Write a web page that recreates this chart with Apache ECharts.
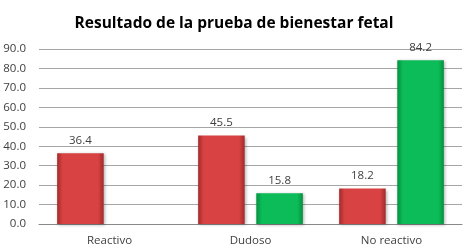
<!DOCTYPE html>
<html lang="en">
<head>
    <meta charset="UTF-8">
    <title>Resultado de la prueba de bienestar fetal</title>
    <script src="https://cdn.jsdelivr.net/npm/echarts@6/dist/echarts.min.js"></script>
</head>
<body style="margin: 0">
<div id="main" style="width: 468px;height: 251px"></div>
<script>
    const categories = ['Reactivo', 'Dudoso', 'No reactivo'];
    const redValues = [36.4, 45.5, 18.2];
    const greenValues = [null, 15.8, 84.2];

    const chart = echarts.init(document.getElementById('main'));

    function barColor(edge, mid) {
        return new echarts.graphic.LinearGradient(0, 0, 1, 0, [
            {offset: 0, color: edge},
            {offset: 0.12, color: mid},
            {offset: 0.88, color: mid},
            {offset: 1, color: edge}
        ]);
    }

    const labelStyle = {
        show: true,
        position: 'top',
        distance: 7,
        color: '#404040',
        fontSize: 11.5,
        fontFamily: 'Open Sans',
        formatter: p => p.value == null ? '' : p.value.toFixed(1)
    };

    let option = {
        animation: false,
        title: {
            text: 'Resultado de la prueba de bienestar fetal',
            left: 'center',
            top: 11,
            textStyle: {
                fontSize: 15.5,
                fontWeight: 'bold',
                color: '#000',
                fontFamily: 'Open Sans'
            }
        },
        grid: {left: 39, right: 6, top: 49, bottom: 27, outerBoundsMode: 'none'},
        xAxis: {
            type: 'category',
            data: categories,
            axisLine: {lineStyle: {color: '#888'}},
            axisTick: {show: false},
            axisLabel: {color: '#404040', fontSize: 11.5, fontFamily: 'Open Sans', margin: 11}
        },
        yAxis: {
            type: 'value',
            min: 0,
            max: 90,
            interval: 10,
            axisLabel: {
                color: '#404040',
                fontSize: 11.5,
                fontFamily: 'Open Sans',
                margin: 13,
                formatter: v => v.toFixed(1)
            },
            splitLine: {lineStyle: {color: '#a6a6a6'}}
        },
        series: [
            {
                type: 'bar',
                data: redValues,
                barWidth: '33%',
                barGap: '25%',
                itemStyle: {
                    color: barColor('#a32a2a', '#d84242'),
                    shadowColor: 'rgba(0,0,0,0.3)',
                    shadowBlur: 3,
                    shadowOffsetX: 1,
                    shadowOffsetY: 1
                },
                label: labelStyle
            },
            {
                type: 'bar',
                data: greenValues,
                barWidth: '33%',
                itemStyle: {
                    color: barColor('#03913f', '#0cbc58'),
                    shadowColor: 'rgba(0,0,0,0.3)',
                    shadowBlur: 3,
                    shadowOffsetX: 1,
                    shadowOffsetY: 1
                },
                label: labelStyle
            }
        ]
    };
    chart.setOption(option);
</script>
</body>
</html>
